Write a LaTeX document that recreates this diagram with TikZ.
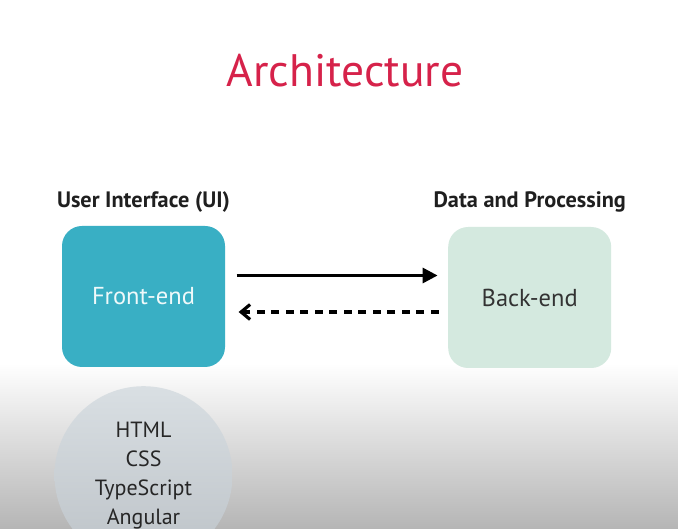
\documentclass[tikz,border=0pt]{standalone}
\usepackage{fontspec}
\setmainfont{PT Sans}
\usetikzlibrary{arrows.meta,positioning,shapes}

\definecolor{titlered}{RGB}{214,34,74}
\definecolor{frontteal}{RGB}{57,175,196}
\definecolor{backgreen}{RGB}{212,233,223}
\definecolor{techgray}{RGB}{217,223,227}
\definecolor{techdark}{RGB}{188,194,199}

\begin{document}
\begin{tikzpicture}[
        x=1pt, y=1pt,
        every node/.style={inner sep=0pt, align=center},
        every path/.style={line width=3.2pt},
        title/.style={text=titlered, font=\fontsize{45.5}{50}\selectfont, text depth=0pt, anchor=south},
        heading/.style={font=\fontsize{22.3}{26}\selectfont\bfseries, text=black!88, text depth=0pt},
        box/.style={rounded corners=20pt, minimum width=163pt, minimum height=141pt, font=\fontsize{24.5}{28}\selectfont},
        tech/.style={circle, minimum size=178pt, top color=techgray, bottom color=techdark, text=black!85, font=\fontsize{22}{29}\selectfont}
    ]

    % Background
    \useasboundingbox (0,0) rectangle (678,-529);
    \fill[white] (0,0) rectangle (678,-363);
    \shade[top color=white, bottom color=black!29] (0,-363) rectangle (678,-529);

    % Nodes
    \node[title] (title) at (345,-88) {Architecture};

    \node (front)[box, fill=frontteal, text=white!92!frontteal] at (143.5,-296.5) {Front-end};
    \node (back)[box, fill=backgreen, text=black!80, right=220pt of front, yshift=-1pt] {\raisebox{-3pt}{Back-end}};

    \node (ui)[heading, above=15.5pt of front] {User Interface (UI)};
    \node (data)[heading, above=16.5pt of back] {Data and Processing};

    \node (stack)[tech, below=16pt of front] {HTML \\ CSS \\ TypeScript \\ Angular};

    % Edges
    \draw[-{Triangle[length=15pt,width=15pt]}, shorten <=10pt, shorten >=9pt]
        ([yshift=21pt]front.east) -- ([yshift=22pt]back.west);
    \draw[-{Straight Barb[length=9pt,width=15pt]}, dash pattern=on 8pt off 6.5pt, shorten <=8pt, shorten >=12pt]
        ([yshift=-14.5pt]back.west) -- ([yshift=-15.5pt]front.east);

    \end{tikzpicture}
\end{document}
